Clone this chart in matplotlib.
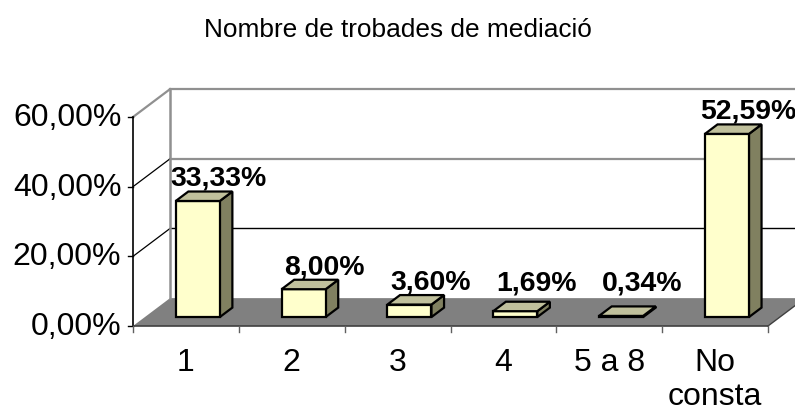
import matplotlib.pyplot as plt
from matplotlib.patches import Polygon

categories = ["1", "2", "3", "4", "5 a 8", "No\nconsta"]
values = [33.33, 8.00, 3.60, 1.69, 0.34, 52.59]
labels = ["33,33%", "8,00%", "3,60%", "1,69%", "0,34%", "52,59%"]
yticks = [0, 20, 40, 60]
ytick_labels = ["0,00%", "20,00%", "40,00%", "60,00%"]

plt.rcParams['font.family'] = ['Liberation Sans', 'DejaVu Sans']

fig = plt.figure(figsize=(7.95, 4.14), dpi=100)
ax = fig.add_axes([133 / 795, 87 / 414, 635 / 795, 209 / 414])
ax.set_xlim(0, len(categories))
ax.set_ylim(0, 60)
ax.axis('off')

# depth offsets (full depth) in data units
DX, DY = 0.35, 8.0
n = len(categories)


def shift(x, y, d):
    return (x + DX * d, y + DY * d)


def poly(pts, fc, ec='none', lw=0, z=1):
    ax.add_patch(Polygon(pts, closed=True, facecolor=fc, edgecolor=ec,
                         linewidth=lw, clip_on=False, zorder=z, joinstyle='miter'))


# floor
poly([(0, 0), (n, 0), shift(n, 0, 1), shift(0, 0, 1)], '#808080', z=1)

# back wall gridlines and left wall lines
for v in yticks[1:]:
    col = '#000000' if v == 20 else '#909090'
    lw = 1.0 if v == 20 else 1.6
    x0, y0 = shift(0, v, 1)
    x1, y1 = shift(n + 0.1, v, 1)
    ax.plot([x0, x1], [y0, y1], color=col, lw=lw, clip_on=False, zorder=2)
    ax.plot([0, x0], [v, y0], color='#909090' if v == 60 else 'black',
            lw=1.6 if v == 60 else 0.9, clip_on=False, zorder=2)
x0, y0 = shift(0, 0, 1)
ax.plot([x0, x0], [y0, 60 + DY], color='#909090', lw=1.8, clip_on=False, zorder=2)

# front axis, baseline, right floor edge
ax.plot([0, 0], [0, 60], color='black', lw=1.2, clip_on=False, zorder=3)
ax.plot([0, n], [0, 0], color='#404040', lw=1.2, clip_on=False, zorder=3)
xr, yr = shift(n, 0, 1)
ax.plot([n, xr], [0, yr], color='#404040', lw=1.0, clip_on=False, zorder=3)

# ticks
for v, lab in zip(yticks, ytick_labels):
    ax.plot([-0.05, 0], [v, v], color='black', lw=1.0, clip_on=False, zorder=3)
    ax.text(-0.11, v, lab, ha='right', va='center', fontsize=23, clip_on=False)
for i in range(n + 1):
    ax.plot([i, i], [0, -1.7], color='#606060', lw=1.0, clip_on=False, zorder=3)
for i, c in enumerate(categories):
    ax.text(i + 0.5, -6.0, c, ha='center', va='top', fontsize=23,
            linespacing=1.18, clip_on=False)

# bars
d0, d1 = 0.32, 0.66
bw = 0.416
for i, v in enumerate(values):
    xl = i + 0.5 - bw / 2
    xr_ = xl + bw
    f = [shift(xl, 0, d0), shift(xr_, 0, d0), shift(xr_, v, d0), shift(xl, v, d0)]
    top = [shift(xl, v, d0), shift(xr_, v, d0), shift(xr_, v, d1), shift(xl, v, d1)]
    side = [shift(xr_, 0, d0), shift(xr_, 0, d1), shift(xr_, v, d1), shift(xr_, v, d0)]
    poly(side, '#808060', 'black', 1.6, z=4)
    poly(f, '#FFFFCC', 'black', 1.6, z=4)
    poly(top, '#C0C09C', 'black', 1.6, z=5)
    cx = i + 0.5 + DX * d0 + 0.2
    ax.text(cx, max(v + 7.2, 10.5), labels[i], ha='center', va='baseline',
            fontsize=20.4, fontweight='bold', clip_on=False, zorder=6)

fig.text(0.5, 1 - 30 / 414, "Nombre de trobades de mediació", ha='center',
         va='center', fontsize=18.9)

fig.savefig("out.png", dpi=100)
